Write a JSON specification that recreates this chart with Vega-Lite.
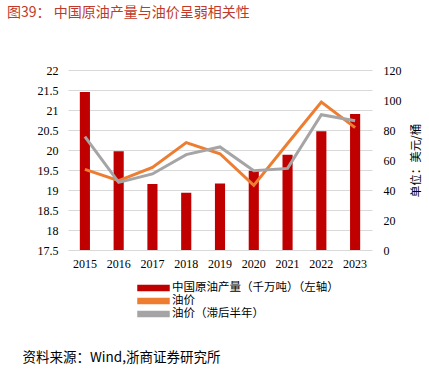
{
  "$schema": "https://vega.github.io/schema/vega-lite/v6.json",
  "width": 304,
  "height": 180,
  "autosize": "none",
  "padding": {"left": 68, "top": 70, "right": 57, "bottom": 130},
  "background": "white",
  "config": {"view": {"stroke": null}},
  "title": {
    "text": "图39：   中国原油产量与油价呈弱相关性",
    "anchor": "start",
    "frame": "group",
    "dx": -61,
    "offset": 44,
    "font": "Noto Sans CJK SC",
    "fontSize": 14,
    "fontWeight": "normal",
    "color": "#C0392B"
  },
  "datasets": {
    "production": [
      {"year": "2015", "series": "中国原油产量（千万吨）（左轴）", "value": 21.45},
      {"year": "2016", "series": "中国原油产量（千万吨）（左轴）", "value": 19.97},
      {"year": "2017", "series": "中国原油产量（千万吨）（左轴）", "value": 19.15},
      {"year": "2018", "series": "中国原油产量（千万吨）（左轴）", "value": 18.93},
      {"year": "2019", "series": "中国原油产量（千万吨）（左轴）", "value": 19.16},
      {"year": "2020", "series": "中国原油产量（千万吨）（左轴）", "value": 19.48},
      {"year": "2021", "series": "中国原油产量（千万吨）（左轴）", "value": 19.88},
      {"year": "2022", "series": "中国原油产量（千万吨）（左轴）", "value": 20.47},
      {"year": "2023", "series": "中国原油产量（千万吨）（左轴）", "value": 20.9}
    ],
    "price": [
      {"year": "2015", "series": "油价", "value": 53.8},
      {"year": "2016", "series": "油价", "value": 46.2},
      {"year": "2017", "series": "油价", "value": 55.1},
      {"year": "2018", "series": "油价", "value": 71.6},
      {"year": "2019", "series": "油价", "value": 64.2},
      {"year": "2020", "series": "油价", "value": 43.1},
      {"year": "2021", "series": "油价", "value": 71.0},
      {"year": "2022", "series": "油价", "value": 98.7},
      {"year": "2023", "series": "油价", "value": 81.6},
      {"year": "2015", "series": "油价（滞后半年）", "value": 75.6},
      {"year": "2016", "series": "油价（滞后半年）", "value": 45.1},
      {"year": "2017", "series": "油价（滞后半年）", "value": 50.7},
      {"year": "2018", "series": "油价（滞后半年）", "value": 63.6},
      {"year": "2019", "series": "油价（滞后半年）", "value": 68.7},
      {"year": "2020", "series": "油价（滞后半年）", "value": 52.9},
      {"year": "2021", "series": "油价（滞后半年）", "value": 54.4},
      {"year": "2022", "series": "油价（滞后半年）", "value": 90.2},
      {"year": "2023", "series": "油价（滞后半年）", "value": 86.2}
    ]
  },
  "encoding": {
    "x": {
      "field": "year",
      "type": "ordinal",
      "scale": {"paddingInner": 0, "paddingOuter": 0},
      "axis": {
        "labelAngle": 0,
        "domain": false,
        "ticks": false,
        "labelPadding": 8,
        "labelFont": "Liberation Serif",
        "labelFontSize": 12,
        "labelColor": "#000000",
        "title": "资料来源：Wind,浙商证券研究所",
        "titleAnchor": "start",
        "titleAlign": "left",
        "titleX": -46,
        "titleY": 100,
        "titleFont": "Noto Sans CJK SC",
        "titleFontSize": 13.5,
        "titleFontWeight": "normal",
        "titleColor": "#000000"
      }
    },
    "color": {
      "field": "series",
      "type": "nominal",
      "scale": {
        "domain": ["中国原油产量（千万吨）（左轴）", "油价", "油价（滞后半年）"],
        "range": ["#C00000", "#ED7D31", "#A5A5A5"]
      },
      "legend": {
        "orient": "none",
        "legendX": 69,
        "legendY": 211.5,
        "direction": "vertical",
        "title": null,
        "padding": 0,
        "symbolType": "M-1,-0.16H1V0.16H-1Z",
        "symbolSize": 961,
        "clipHeight": 13,
        "rowPadding": 0,
        "labelOffset": 2,
        "labelFont": "Noto Sans CJK SC",
        "labelFontSize": 11.5,
        "labelColor": "#000000",
        "labelLimit": 300,
        "encode": {
          "symbols": {
            "update": {
              "fill": {"scale": "color", "field": "value"},
              "stroke": {"value": "transparent"},
              "opacity": {"value": 1}
            }
          }
        }
      }
    }
  },
  "layer": [
    {
      "data": {"name": "production"},
      "mark": {"type": "bar", "width": {"band": 0.3}, "clip": true},
      "encoding": {
        "y": {
          "field": "value",
          "type": "quantitative",
          "scale": {"domain": [17.5, 22], "zero": false, "nice": false},
          "axis": {
            "values": [17.5, 18, 18.5, 19, 19.5, 20, 20.5, 21, 21.5, 22],
            "format": "~g",
            "title": null,
            "domain": false,
            "ticks": false,
            "labelPadding": 10,
            "labelFont": "Liberation Serif",
            "labelFontSize": 12,
            "labelColor": "#000000",
            "gridColor": "#D9D9D9",
            "gridWidth": 1
          }
        }
      }
    },
    {
      "data": {"name": "price"},
      "mark": {"type": "line", "strokeWidth": 3},
      "encoding": {
        "y": {
          "field": "value",
          "type": "quantitative",
          "scale": {"domain": [0, 120], "nice": false},
          "axis": {
            "orient": "right",
            "values": [0, 20, 40, 60, 80, 100, 120],
            "grid": false,
            "domain": false,
            "ticks": false,
            "labelPadding": 11,
            "labelFont": "Liberation Serif",
            "labelFontSize": 12,
            "labelColor": "#000000",
            "title": "单位：美元/桶",
            "titleAngle": 270,
            "titleFont": "Noto Sans CJK SC",
            "titleFontSize": 11.5,
            "titleFontWeight": "normal",
            "titleColor": "#000000",
            "titlePadding": 20
          }
        }
      }
    }
  ],
  "resolve": {"scale": {"y": "independent"}}
}
